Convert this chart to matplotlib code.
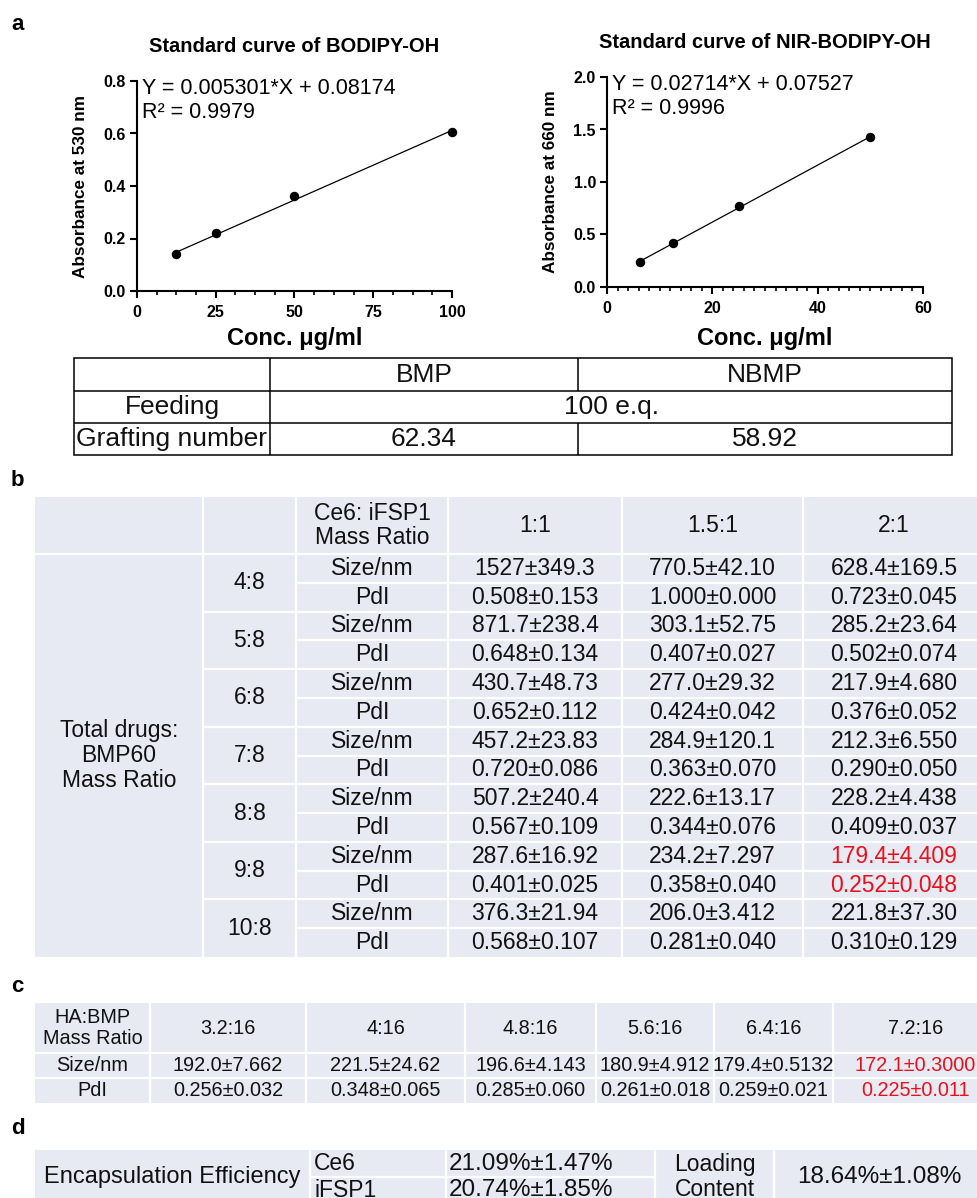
import matplotlib.pyplot as plt
from matplotlib.ticker import MultipleLocator, FormatStrFormatter
from matplotlib.patches import Rectangle

plt.rcParams['font.family'] = ['Liberation Sans', 'DejaVu Sans']

W, H = 978, 1198

# ---- panel a: standard curves ----
bodipy_conc = [12.5, 25, 50, 100]
bodipy_abs = [0.141, 0.220, 0.362, 0.607]
bodipy_fit = (0.005301, 0.08174)
bodipy_r2 = '0.9979'

nir_conc = [6.25, 12.5, 25, 50]
nir_abs = [0.235, 0.416, 0.771, 1.429]
nir_fit = (0.02714, 0.07527)
nir_r2 = '0.9996'

# grafting table
graft_cols = ['BMP', 'NBMP']
feeding = '100 e.q.'
grafting = ['62.34', '58.92']

# ---- panel b ----
ce6_ratios = ['1:1', '1.5:1', '2:1']
drug_ratios = ['4:8', '5:8', '6:8', '7:8', '8:8', '9:8', '10:8']
size_b = [
    ['1527±349.3', '770.5±42.10', '628.4±169.5'],
    ['871.7±238.4', '303.1±52.75', '285.2±23.64'],
    ['430.7±48.73', '277.0±29.32', '217.9±4.680'],
    ['457.2±23.83', '284.9±120.1', '212.3±6.550'],
    ['507.2±240.4', '222.6±13.17', '228.2±4.438'],
    ['287.6±16.92', '234.2±7.297', '179.4±4.409'],
    ['376.3±21.94', '206.0±3.412', '221.8±37.30'],
]
pdi_b = [
    ['0.508±0.153', '1.000±0.000', '0.723±0.045'],
    ['0.648±0.134', '0.407±0.027', '0.502±0.074'],
    ['0.652±0.112', '0.424±0.042', '0.376±0.052'],
    ['0.720±0.086', '0.363±0.070', '0.290±0.050'],
    ['0.567±0.109', '0.344±0.076', '0.409±0.037'],
    ['0.401±0.025', '0.358±0.040', '0.252±0.048'],
    ['0.568±0.107', '0.281±0.040', '0.310±0.129'],
]
best_b = ('9:8', '2:1')

# ---- panel c ----
ha_ratios = ['3.2:16', '4:16', '4.8:16', '5.6:16', '6.4:16', '7.2:16']
size_c = ['192.0±7.662', '221.5±24.62', '196.6±4.143', '180.9±4.912', '179.4±0.5132', '172.1±0.3000']
pdi_c = ['0.256±0.032', '0.348±0.065', '0.285±0.060', '0.261±0.018', '0.259±0.021', '0.225±0.011']
best_c = '7.2:16'

# ---- panel d ----
ee_drugs = ['Ce6', 'iFSP1']
ee_vals = ['21.09%±1.47%', '20.74%±1.85%']
loading = '18.64%±1.08%'

FILL = '#e8eaf3'
TXT = '#111111'
RED = '#e8101a'

fig = plt.figure(figsize=(W / 100, H / 100), dpi=100)
ov = fig.add_axes([0, 0, 1, 1])
ov.set_xlim(0, W)
ov.set_ylim(H, 0)
ov.axis('off')


def px_axes(l, r, t, b):
    return fig.add_axes([l / W, 1 - b / H, (r - l) / W, (b - t) / H])


def hline(x0, x1, y, c='white', lw=1.6):
    ov.plot([x0, x1], [y, y], color=c, lw=lw, solid_capstyle='butt')


def vline(x, y0, y1, c='white', lw=1.6):
    ov.plot([x, x], [y0, y1], color=c, lw=lw, solid_capstyle='butt')


def cell(x, y, s, size=14.5, color=TXT, ha='center', **kw):
    ov.text(x, y, s, ha=ha, va='center', fontsize=size, color=color, **kw)


# panel letters
for lab, y in [('a', 24), ('b', 481), ('c', 986), ('d', 1129)]:
    ov.text(11, y, lab, fontsize=16, fontweight='bold', va='center')


def curve(box, conc, absb, fit, r2, xmax, xmaj, xmin, ymax, ymaj, ylabel, title, ty, eqpos):
    l, r, t, b = box
    ax = px_axes(l, r, t, b)
    ax.set_facecolor('none')
    ax.plot(conc, absb, 'o', color='black', ms=5.8, zorder=3, clip_on=False)
    xs = [conc[0], conc[-1]]
    ax.plot(xs, [fit[0] * x + fit[1] for x in xs], color='black', lw=0.9)
    ax.set_xlim(0, xmax)
    ax.set_ylim(0, ymax)
    ax.xaxis.set_major_locator(MultipleLocator(xmaj))
    ax.xaxis.set_minor_locator(MultipleLocator(xmin))
    ax.yaxis.set_major_locator(MultipleLocator(ymaj))
    ax.yaxis.set_major_formatter(FormatStrFormatter('%.1f'))
    for s in ['top', 'right']:
        ax.spines[s].set_visible(False)
    for s in ['left', 'bottom']:
        ax.spines[s].set_linewidth(1.5)
    ax.tick_params(which='major', length=5, width=1.5, labelsize=11.5, pad=3)
    ax.tick_params(axis='x', which='major', pad=5)
    ax.tick_params(which='minor', length=3, width=1.2)
    ax.tick_params(axis='y', which='minor', left=False)
    for lb in ax.get_xticklabels() + ax.get_yticklabels():
        lb.set_fontweight('bold')
    ax.set_ylabel(ylabel, fontsize=12.3, fontweight='bold')
    ax.yaxis.set_label_coords(-49 / (r - l), 0.5)
    ax.set_xlabel('Conc. μg/ml', fontsize=17, fontweight='bold')
    ax.xaxis.label.set_va('center')
    ax.xaxis.set_label_coords(0.5, (b - 339) / (b - t))
    ov.text((l + r) / 2, ty, title, ha='center', va='center', fontsize=14.5, fontweight='bold')
    ex, ey = eqpos
    ov.text(ex, ey, f'Y = {fit[0]}*X + {fit[1]}', fontsize=15.5, va='center')
    ov.text(ex, ey + 25, f'R² = {r2}', fontsize=15.5, va='center')
    return ax


curve((137, 452, 81, 291), bodipy_conc, bodipy_abs, bodipy_fit, bodipy_r2, 100, 25, 6.25,
      0.8, 0.2, 'Absorbance at 530 nm', 'Standard curve of BODIPY-OH', 47, (142, 88))
curve((607, 923, 77, 287), nir_conc, nir_abs, nir_fit, nir_r2, 60, 20, 2,
      2.0, 0.5, 'Absorbance at 660 nm', 'Standard curve of NIR-BODIPY-OH', 43, (612, 84))

# ---- grafting table ----
ax_cols = [74, 270, 578, 952]
ax_rows = [358, 391, 423, 455]
ov.add_patch(Rectangle((ax_cols[0], ax_rows[0]), ax_cols[-1] - ax_cols[0], ax_rows[-1] - ax_rows[0],
                       fill=False, ec='black', lw=1.1))
for y in ax_rows[1:-1]:
    hline(ax_cols[0], ax_cols[-1], y, c='black', lw=1.1)
vline(ax_cols[1], ax_rows[0], ax_rows[-1], c='black', lw=1.1)
vline(ax_cols[2], ax_rows[0], ax_rows[1], c='black', lw=1.1)
vline(ax_cols[2], ax_rows[2], ax_rows[3], c='black', lw=1.1)
rc = [(ax_rows[i] + ax_rows[i + 1]) / 2 for i in range(3)]
for j, name in enumerate(graft_cols):
    cell((ax_cols[j + 1] + ax_cols[j + 2]) / 2, rc[0], name, size=19)
cell((ax_cols[0] + ax_cols[1]) / 2, rc[1], 'Feeding', size=19)
cell((ax_cols[1] + ax_cols[3]) / 2, rc[1], feeding, size=19)
cell((ax_cols[0] + ax_cols[1]) / 2, rc[2], 'Grafting number', size=19)
for j, v in enumerate(grafting):
    cell((ax_cols[j + 1] + ax_cols[j + 2]) / 2, rc[2], v, size=19)

# ---- table b ----
BS = 16.5
bx = [35, 203, 296, 448, 622, 803, 985]
by0, bhead, bbot = 497, 554, 957
sub = (bbot - bhead) / (2 * len(drug_ratios))
ov.add_patch(Rectangle((bx[0], by0), bx[-1] - bx[0], bbot - by0, color=FILL, lw=0))
hline(bx[0], bx[-1], bhead)
for k in range(1, 2 * len(drug_ratios)):
    y = bhead + k * sub
    hline(bx[1] if k % 2 == 0 else bx[2], bx[-1], y)
vline(bx[1], by0, bbot)
for x in bx[2:-1]:
    vline(x, by0, bbot)
hc = (by0 + bhead) / 2
cell((bx[2] + bx[3]) / 2, hc, 'Ce6: iFSP1\nMass Ratio', size=BS, linespacing=1.1)
for j, r in enumerate(ce6_ratios):
    cell((bx[j + 3] + bx[j + 4]) / 2, hc, r, size=BS)
cell((bx[0] + bx[1]) / 2, (bhead + bbot) / 2, 'Total drugs:\nBMP60\nMass Ratio', size=BS, linespacing=1.1)
for i, dr in enumerate(drug_ratios):
    y0 = bhead + 2 * i * sub
    cell((bx[1] + bx[2]) / 2, y0 + sub, dr, size=BS)
    cell((bx[2] + bx[3]) / 2, y0 + sub / 2, 'Size/nm', size=BS)
    cell((bx[2] + bx[3]) / 2, y0 + 1.5 * sub, 'PdI', size=BS)
    for j, r in enumerate(ce6_ratios):
        col = RED if (dr, r) == best_b else TXT
        xc = (bx[j + 3] + bx[j + 4]) / 2
        cell(xc, y0 + sub / 2, size_b[i][j], size=BS, color=col)
        cell(xc, y0 + 1.5 * sub, pdi_b[i][j], size=BS, color=col)

# ---- table c ----
CS = 14.3
cx = [35, 150, 306, 465, 596, 714, 833, 998]
cy = [1003, 1053, 1078, 1103]
ov.add_patch(Rectangle((cx[0], cy[0]), cx[-1] - cx[0], cy[-1] - cy[0], color=FILL, lw=0))
for y in cy[1:-1]:
    hline(cx[0], cx[-1], y)
for x in cx[1:-1]:
    vline(x, cy[0], cy[-1])
ccen = [(cy[i] + cy[i + 1]) / 2 for i in range(3)]
cell((cx[0] + cx[1]) / 2, ccen[0], 'HA:BMP\nMass Ratio', size=CS, linespacing=1.1)
cell((cx[0] + cx[1]) / 2, ccen[1], 'Size/nm', size=CS)
cell((cx[0] + cx[1]) / 2, ccen[2], 'PdI', size=CS)
for j, r in enumerate(ha_ratios):
    xc = (cx[j + 1] + cx[j + 2]) / 2
    col = RED if r == best_c else TXT
    cell(xc, ccen[0], r, size=CS)
    cell(xc, ccen[1], size_c[j], size=CS, color=col)
    cell(xc, ccen[2], pdi_c[j], size=CS, color=col)

# ---- table d ----
dx = [35, 310, 446, 655, 774, 990]
dy = [1150, 1177, 1204]
ov.add_patch(Rectangle((dx[0], dy[0]), dx[-1] - dx[0], dy[-1] - dy[0], color=FILL, lw=0))
hline(dx[1], dx[3], dy[1])
for x in dx[1:-1]:
    vline(x, dy[0], dy[-1])
cell((dx[0] + dx[1]) / 2, dy[1], 'Encapsulation Efficiency', size=17)
for i, (dname, val) in enumerate(zip(ee_drugs, ee_vals)):
    yc = (dy[i] + dy[i + 1]) / 2
    cell(dx[1] + 4, yc, dname, size=16.5, ha='left')
    cell(dx[2] + 3, yc, val, size=17.5, ha='left')
cell((dx[3] + dx[4]) / 2, dy[1], 'Loading\nContent', size=16.5, linespacing=1.1)
cell((dx[4] + dx[5]) / 2 - 3, dy[1], loading, size=17.5)

fig.savefig('out.png', dpi=100)
